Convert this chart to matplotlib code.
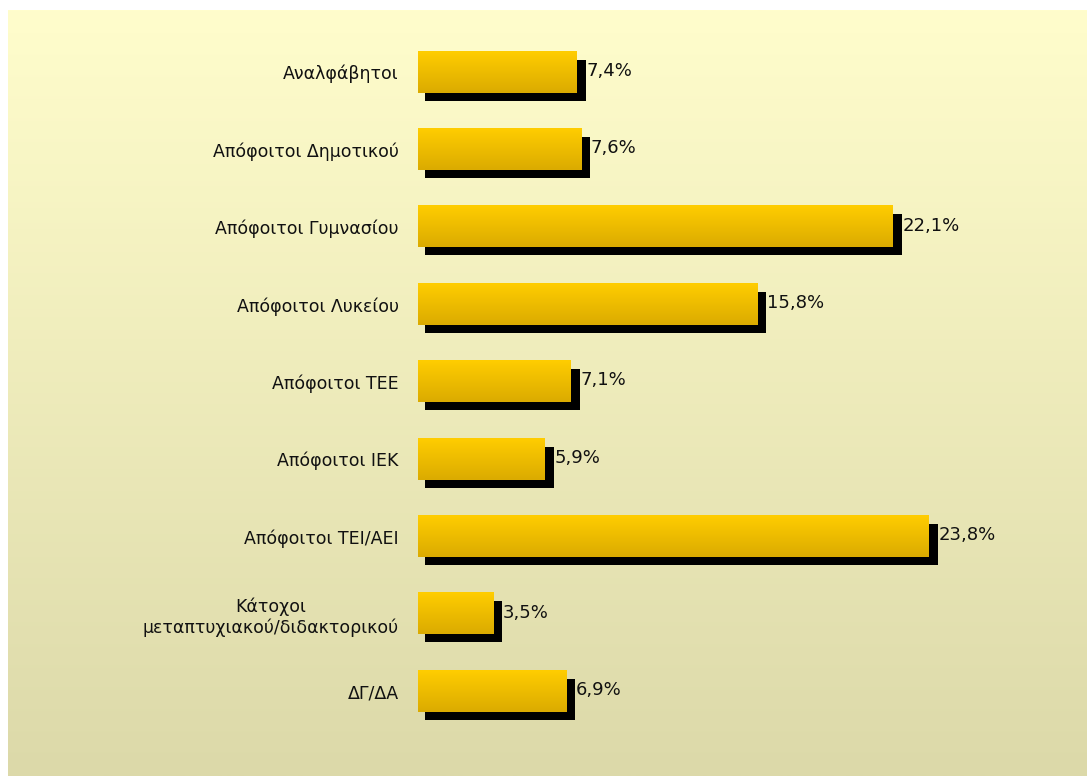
import numpy as np
import matplotlib.pyplot as plt
import matplotlib.transforms as mtransforms
from matplotlib.colors import LinearSegmentedColormap

categories = ['Αναλφάβητοι', 'Απόφοιτοι Δημοτικού', 'Απόφοιτοι Γυμνασίου',
              'Απόφοιτοι Λυκείου', 'Απόφοιτοι ΤΕΕ', 'Απόφοιτοι ΙΕΚ',
              'Απόφοιτοι ΤΕΙ/ΑΕΙ', 'Κάτοχοι\nμεταπτυχιακού/διδακτορικού', 'ΔΓ/ΔΑ']
values = [7.4, 7.6, 22.1, 15.8, 7.1, 5.9, 23.8, 3.5, 6.9]
value_labels = ['7,4%', '7,6%', '22,1%', '15,8%', '7,1%', '5,9%', '23,8%', '3,5%', '6,9%']

W, H = 1087, 776
fig = plt.figure(figsize=(W / 100, H / 100), dpi=100)
fig.patch.set_facecolor('white')

# background panel with vertical gradient
bg = fig.add_axes([8 / W, 0, 1 - 8 / W, (H - 10) / H], zorder=0)
bg_cmap = LinearSegmentedColormap.from_list('bg', ['#fffdcc', '#dcd9a9'])
bg.imshow(np.linspace(0, 1, 256).reshape(-1, 1), cmap=bg_cmap, aspect='auto',
          extent=(0, 1, 0, 1))
bg.set_axis_off()

# main axes: x=0 at px 418, 21.47 px per percent
x0 = 418
ppu = 21.47
top_px, bot_px = 33.5, 730.0
ax = fig.add_axes([x0 / W, 1 - bot_px / H, 1 - x0 / W, (bot_px - top_px) / H], zorder=1)
ax.set_xlim(0, (W - x0) / ppu)
ax.set_ylim(len(values) - 0.5, -0.5)
ax.patch.set_alpha(0)
for s in ax.spines.values():
    s.set_visible(False)
ax.set_xticks([])
ax.set_yticks(range(len(categories)))
ax.set_yticklabels(categories, fontsize=12.5, color='#111111', multialignment='center')
ax.tick_params(axis='y', length=0, pad=14)

h = 0.53
ypos = np.arange(len(values))

# shadows
shadow = mtransforms.offset_copy(ax.transData, fig=fig, x=7, y=-8, units='dots')
ax.barh(ypos, np.array(values) + 0.1, height=h, left=0.0, color='black',
        transform=shadow, zorder=2)

# gradient bars
bar_cmap = LinearSegmentedColormap.from_list('bar', ['#ffcd00', '#dbab00'])
grad = np.linspace(0, 1, 64).reshape(-1, 1)
for y, v in zip(ypos, values):
    ax.imshow(grad, cmap=bar_cmap, aspect='auto', zorder=3,
              extent=(0, v, y + h / 2, y - h / 2))

ax.set_xlim(0, (W - x0) / ppu)
ax.set_ylim(len(values) - 0.5, -0.5)

for y, v, lab in zip(ypos, values, value_labels):
    ax.annotate(lab, (v, y), xytext=(7, 1), textcoords='offset points',
                ha='left', va='center', fontsize=13, color='#111111', zorder=4)

fig.savefig('out.png', dpi=100)
